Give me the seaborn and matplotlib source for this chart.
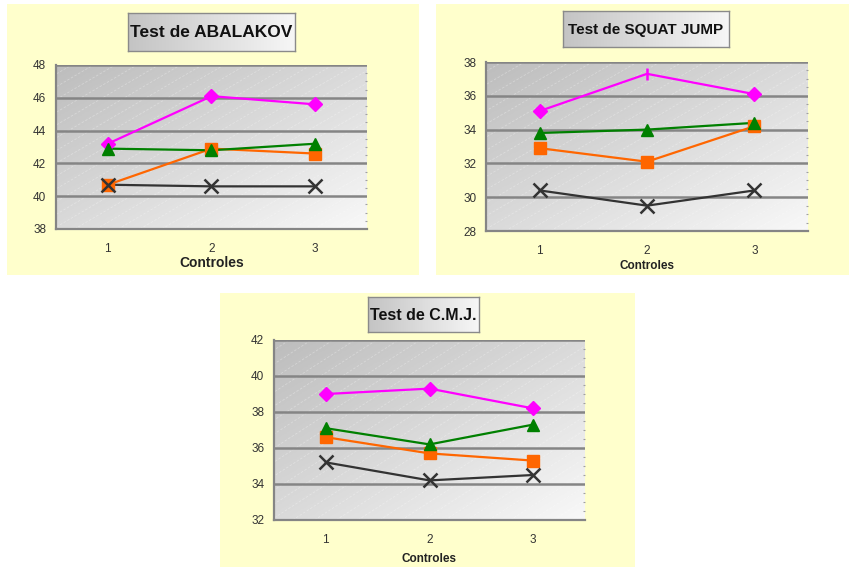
import numpy as np
import matplotlib
matplotlib.use("Agg")
import matplotlib.pyplot as plt
from matplotlib.patches import Rectangle
import seaborn as sns

sns.set_style("white")
plt.rcParams['font.family'] = ['Liberation Sans', 'DejaVu Sans']
NARROW = ['Liberation Sans Narrow', 'Liberation Sans', 'DejaVu Sans']

# ---------------- data ----------------
controles = [1, 2, 3]
tick_labels = ["1", "2", "3"]

aba_magenta = [43.2, 46.1, 45.6]
aba_green = [42.9, 42.8, 43.2]
aba_orange = [40.7, 42.9, 42.6]
aba_black = [40.7, 40.6, 40.6]

sj_magenta = [35.1, 37.3, 36.1]
sj_green = [33.8, 34.0, 34.4]
sj_orange = [32.9, 32.1, 34.2]
sj_black = [30.4, 29.5, 30.4]

cmj_magenta = [39.0, 39.3, 38.2]
cmj_green = [37.1, 36.2, 37.3]
cmj_orange = [36.6, 35.7, 35.3]
cmj_black = [35.2, 34.2, 34.5]

titles = ["Test de ABALAKOV", "Test de SQUAT JUMP", "Test de C.M.J."]
x_label = "Controles"

# ---------------- layout helpers ----------------
W, H = 849, 567
fig = plt.figure(figsize=(W / 100, H / 100), dpi=100)
fig.patch.set_facecolor("white")


def rect(x0, y0, x1, y1):
    return [x0 / W, 1 - y1 / H, (x1 - x0) / W, (y1 - y0) / H]


def yellow(x0, y0, x1, y1):
    fig.patches.append(Rectangle((x0 / W, 1 - y1 / H), (x1 - x0) / W, (y1 - y0) / H,
                                 transform=fig.transFigure, facecolor="#FFFFCC",
                                 edgecolor="none", zorder=-10))


def title_box(x0, y0, x1, y1, text, size):
    tax = fig.add_axes(rect(x0, y0, x1, y1))
    g = np.linspace(0, 1, 64)
    img = np.tile(g, (8, 1))
    tax.imshow(img, cmap=matplotlib.colors.LinearSegmentedColormap.from_list(
        "tg", ["#C4C4C4", "#F6F6F6"]), aspect="auto", extent=[0, 1, 0, 1])
    tax.set_xlim(0, 1)
    tax.set_ylim(0, 1)
    tax.set_xticks([])
    tax.set_yticks([])
    for s in tax.spines.values():
        s.set_color("#8A8A8A")
        s.set_linewidth(1.0)
    tax.text(0.5, 0.48, text, ha="center", va="center", fontsize=size,
             fontweight="bold", color="#111111")


bg_cmap = matplotlib.colors.LinearSegmentedColormap.from_list(
    "bg", ["#BDBDBD", "#DADADA", "#F8F8F8"])


def panel(r, ylim, series, xlabel_size, xlabel_pad):
    ax = fig.add_axes(r)
    ax.set_facecolor("none")
    ax.set_xlim(0.5, 3.5)
    ax.set_ylim(*ylim)
    # gradient background (top-left dark, bottom-right light)
    yy, xx = np.mgrid[0:1:80j, 0:1:120j]
    grad = (xx + yy) / 2.0
    ax.imshow(grad, cmap=bg_cmap, aspect="auto", extent=[0, 1, 0, 1],
              transform=ax.transAxes, zorder=0, origin="upper")
    # faint diagonal stripes
    for k in np.arange(-1.2, 1.2, 0.07):
        ax.plot([k, k + 0.9], [0, 1], transform=ax.transAxes, color="white",
                alpha=0.3, lw=0.6, ls=(0, (3, 2)), zorder=0.5, clip_on=True)
    yt = np.arange(ylim[0], ylim[1] + 1, 2)
    ax.set_yticks(yt)
    ax.set_yticklabels([str(v) for v in yt], family=NARROW)
    for v in yt[1:]:
        ax.axhline(v, color="#858585", lw=1.8, zorder=1)
    # small dotted marks at the right edge
    ax.set_yticks(np.arange(ylim[0], ylim[1] + 0.1, 0.5), minor=True)
    ax.tick_params(axis="y", which="minor", left=False, right=True,
                   length=1.5, width=0.8, color="#A0A0A0", direction="in")
    for (vals, color, markers, ms) in series:
        sns.lineplot(x=controles, y=vals, ax=ax, color=color, lw=1.6,
                     zorder=3, legend=False)
        for xv, yv, mk in zip(controles, vals, markers):
            if mk in ("x", "|"):
                ax.plot([xv], [yv], marker=mk, color=color, ms=ms + 1,
                        mew=1.8, zorder=4, ls="none")
            else:
                ax.plot([xv], [yv], marker=mk, color=color, ms=ms,
                        mec=color, zorder=4, ls="none")
    ax.set_xlim(0.5, 3.5)
    ax.set_ylim(*ylim)
    ax.set_xticks([0.5, 1.5, 2.5, 3.5])
    ax.set_xticklabels([])
    ax.set_xticks(controles, minor=True)
    ax.set_xticklabels(tick_labels, minor=True, family=NARROW)
    ax.tick_params(axis="x", which="major", length=4, width=1.2,
                   color="#858585", direction="out")
    ax.tick_params(axis="x", which="minor", length=0, pad=10,
                   labelsize=8.5, labelcolor="#333333")
    ax.tick_params(axis="y", which="major", length=0, pad=7, labelsize=8.5,
                   labelcolor="#333333")
    for s in ["top", "right"]:
        ax.spines[s].set_visible(False)
    for s in ["left", "bottom"]:
        ax.spines[s].set_color("#858585")
        ax.spines[s].set_linewidth(1.6)
    ax.set_xlabel(x_label, fontsize=xlabel_size, fontweight="bold",
                  color="#222222", labelpad=xlabel_pad, family=NARROW)
    ax.set_ylabel("")
    return ax


MAG, GRN, ORG, BLK = "#FF00FF", "#008000", "#FF6600", "#333333"

# panel 1
yellow(7, 4, 419, 275)
panel(rect(56, 65, 367, 229), (38, 48), [
    (aba_magenta, MAG, ["D", "D", "D"], 7.5),
    (aba_orange, ORG, ["s", "s", "s"], 8),
    (aba_green, GRN, ["^", "^", "^"], 9),
    (aba_black, BLK, ["x", "x", "x"], 8.5),
], 10, 1)
title_box(128, 13, 295, 51, titles[0], 12.5)

# panel 2
yellow(436, 4, 849, 275)
panel(rect(486, 62, 808, 231), (28, 38), [
    (sj_magenta, MAG, ["D", "|", "D"], 7.5),
    (sj_orange, ORG, ["s", "s", "s"], 8),
    (sj_green, GRN, ["^", "^", "^"], 9),
    (sj_black, BLK, ["x", "x", "x"], 8.5),
], 8.5, 2)
title_box(563, 11, 729, 47, titles[1], 11)

# panel 3
yellow(220, 293, 635, 567)
panel(rect(274, 340, 585, 520), (32, 42), [
    (cmj_magenta, MAG, ["D", "D", "D"], 7.5),
    (cmj_orange, ORG, ["s", "s", "s"], 8),
    (cmj_green, GRN, ["^", "^", "^"], 9),
    (cmj_black, BLK, ["x", "x", "x"], 8.5),
], 8.5, 5)
title_box(368, 297, 479, 332, titles[2], 11.5)

fig.savefig("out.png", dpi=100)
